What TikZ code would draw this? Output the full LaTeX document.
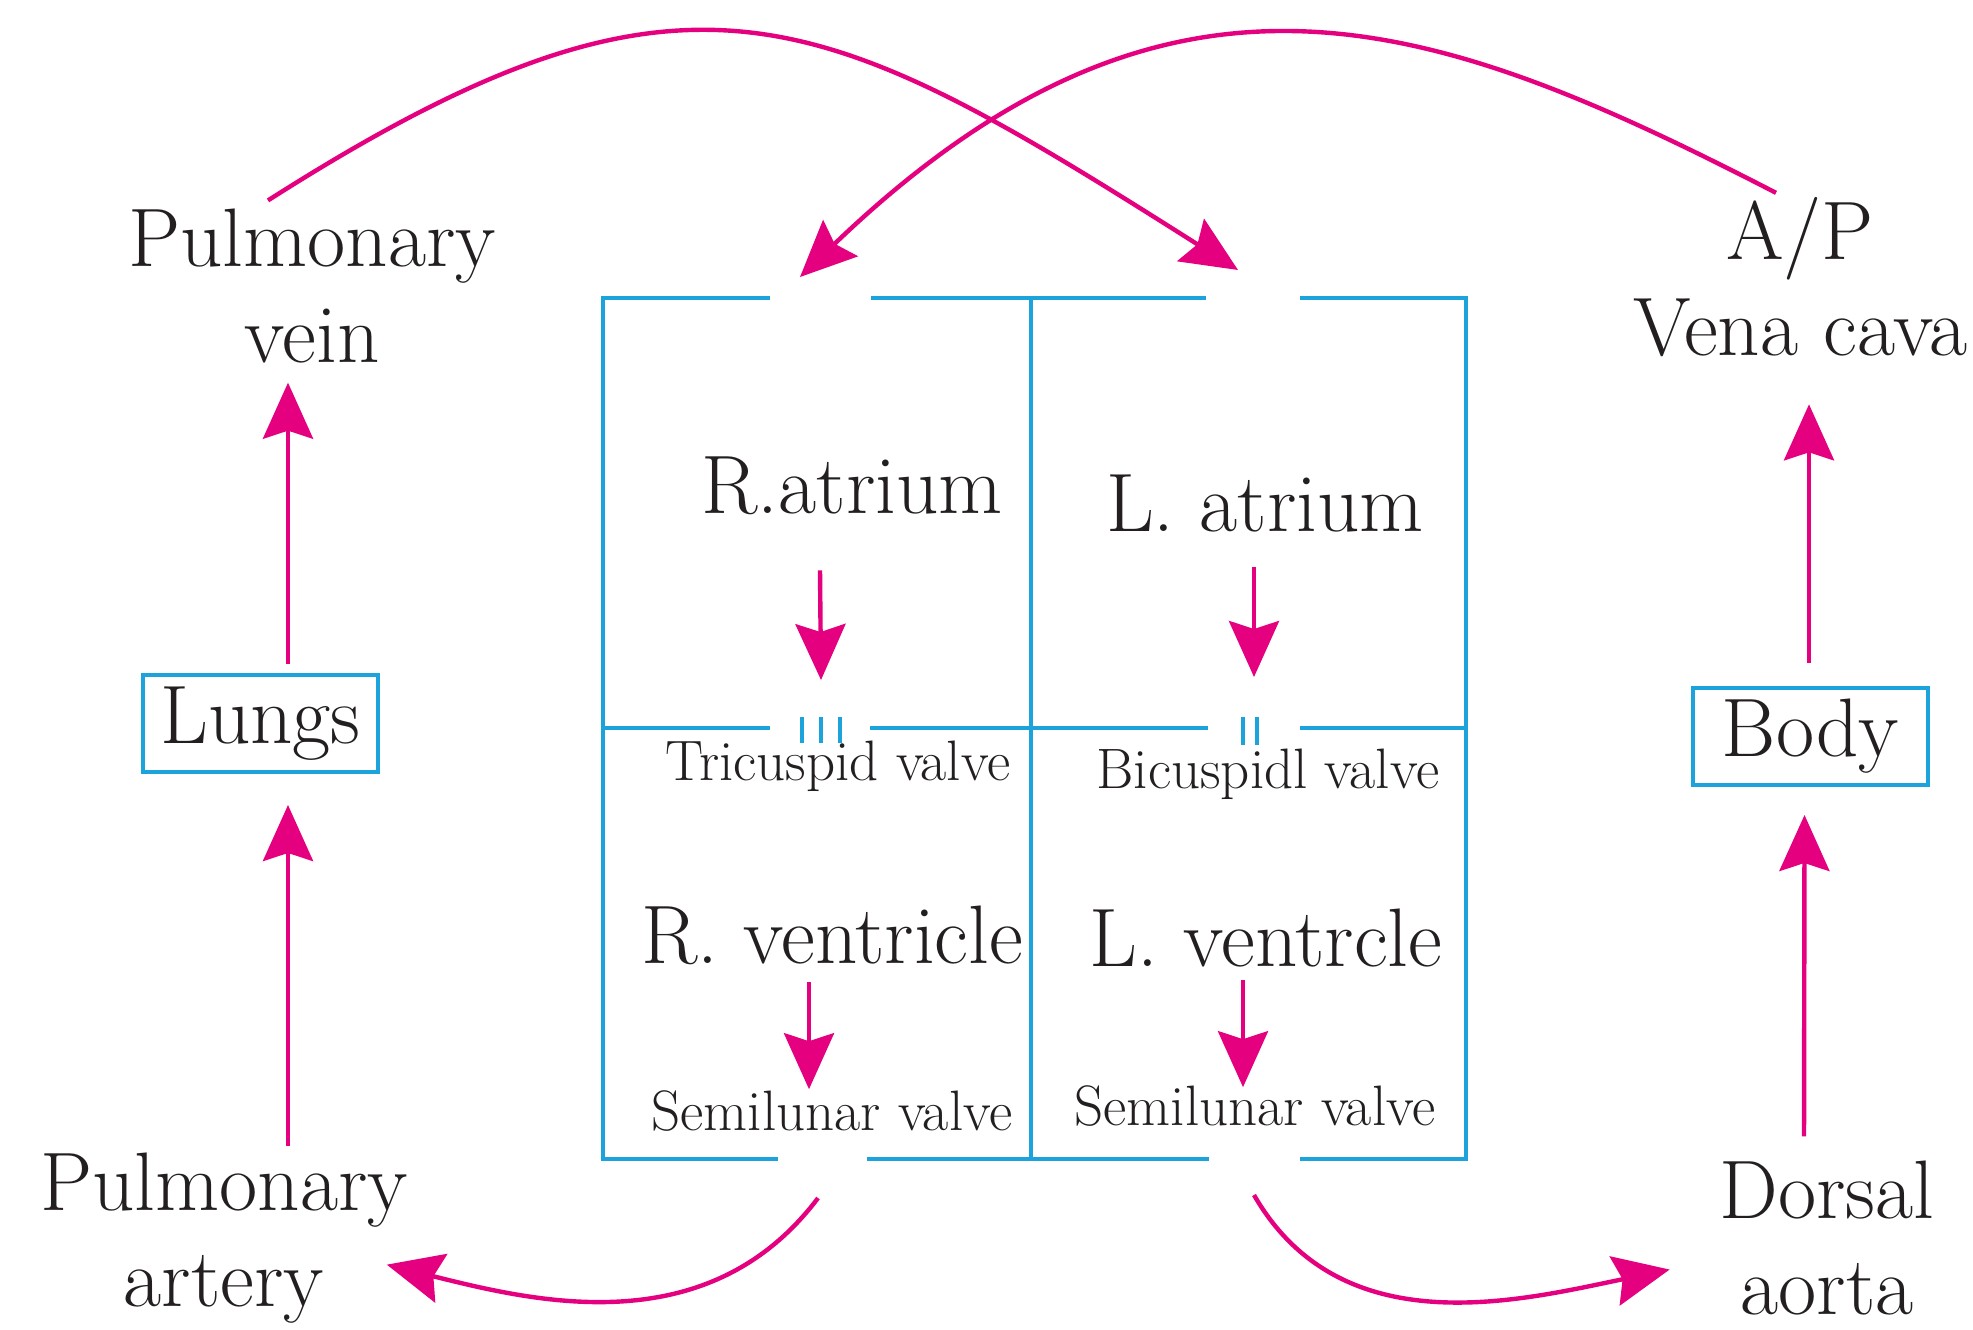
\documentclass[tikz,border=0pt]{standalone}
\usepackage{tikz}
\usetikzlibrary{arrows.meta}
\definecolor{heartblue}{RGB}{28,163,220}
\definecolor{flowpink}{RGB}{228,0,126}
\definecolor{labelgray}{RGB}{35,31,32}

\begin{document}
\begin{tikzpicture}[x=0.5pt, y=-0.5pt,
    wall/.style={heartblue, line width=2.2pt},
    flow/.style={flowpink, line width=2.2pt, -{Stealth[length=28pt, width=25pt, inset=4pt]}},
    big/.style={labelgray, inner sep=0pt, outer sep=0pt, font=\fontsize{41.5}{48}\selectfont},
    small/.style={labelgray, inner sep=0pt, outer sep=0pt, font=\fontsize{28.5}{32}\selectfont},
    organ/.style={big, draw=heartblue, line width=2.4pt, minimum width=117.5pt, minimum height=48.5pt}]
    \useasboundingbox (0,0) rectangle (1973,1329);
    % Heart walls
    \draw[wall] (770,298) -- (603,298) -- (603,1159) -- (778,1159);
    \draw[wall] (871,298) -- (1206,298);
    \draw[wall] (1300,298) -- (1466,298) -- (1466,1159) -- (1300,1159);
    \draw[wall] (867,1159) -- (1209,1159);
    \draw[wall] (1031,298) -- (1031,1159);
    % atria / ventricles partition
    \draw[wall] (603,728) -- (770,728);
    \draw[wall] (870,728) -- (1208,728);
    \draw[wall] (1300,728) -- (1466,728);
    % valve flaps: three on the right, two on the left
    \foreach \x in {802,821,840} {
      \draw[wall] (\x,717) -- (\x,743);
    }
    \foreach \x in {1243,1257} {
      \draw[wall] (\x,717) -- (\x,745);
    }
    % openings in the walls
    \coordinate (ltop) at (820,298);
    \coordinate (rtop) at (1253,298);
    \coordinate (lbot) at (822,1159);
    \coordinate (rbot) at (1254,1159);
    \coordinate (tvalve) at (821,730);
    \coordinate (bvalve) at (1250,730);
    % chamber labels
    \node[big, anchor=base] (ratrium) at (852,513) {R.atrium};
    \node[big, anchor=base] (latrium) at (1265,531) {L. atrium};
    \node[small, anchor=base] (tricusp) at (838,780) {Tricuspid valve};
    \node[small, anchor=base] (bicusp) at (1268,788) {Bicuspidl valve};
    \node[big, anchor=base] (rvent) at (832,963) {R. ventricle};
    \node[big, anchor=base] (lvent) at (1266,966) {L. ventrcle};
    \node[small, anchor=base] (rsemi) at (832,1130) {Semilunar valve};
    \node[small, anchor=base] (lsemi) at (1255,1125) {Semilunar valve};
    % vessels and organs (base = last line)
    \node[big, anchor=base, align=center] (pvein) at (312,362) {Pulmonary\\vein};
    \node[big, anchor=base, align=center] (vcava) at (1800,355) {A/P\\Vena cava};
    \node[big, anchor=base, align=center] (partery) at (224,1306) {Pulmonary\\artery};
    \node[big, anchor=base, align=center] (daorta) at (1827,1314) {Dorsal\\aorta};
    \node[organ] (lungs) at (260.5,723.5) {Lungs};
    \node[organ] (body) at (1810.5,736.5) {Body};
    % flow inside the heart
    \draw[flow] ([xshift=-16pt,yshift=-28pt]ratrium.south) -- ([yshift=25pt]tvalve);
    \draw[flow] ([xshift=-5.5pt,yshift=-17.5pt]latrium.south) -- ([xshift=2pt,yshift=26.5pt]bvalve);
    \draw[flow] ([xshift=-11.5pt,yshift=-9pt]rvent.south) -- ([xshift=-11.5pt,yshift=0.5pt]rsemi.north);
    \draw[flow] ([xshift=-11.5pt,yshift=-6.5pt]lvent.south) -- ([xshift=-6pt,yshift=-1pt]lsemi.north);
    % lungs and body
    \draw[flow] ([xshift=13.75pt,yshift=5.5pt]lungs.north) -- ([xshift=-12pt,yshift=-10pt]pvein.south);
    \draw[flow] ([xshift=32pt,yshift=3pt]partery.north) -- ([xshift=13.75pt,yshift=-16.5pt]lungs.south);
    \draw[flow] ([xshift=-0.75pt,yshift=12.5pt]body.north) -- ([xshift=4.5pt,yshift=-24pt]vcava.south);
    \draw[flow] ([xshift=-11.5pt,yshift=12pt]daorta.north) -- ([xshift=-3pt,yshift=-15pt]body.south);
    % round the heart
    \draw[flow] ([xshift=-22pt,yshift=4pt]pvein.north) .. controls +(419,-267) and +(-420,-266) .. ([xshift=-7.5pt,yshift=14pt]rtop);
    \draw[flow] ([xshift=-12pt,yshift=2pt]vcava.north) .. controls +(-340,-175) and +(372,-357) .. ([xshift=-10pt,yshift=10.5pt]ltop);
    \draw[flow] ([xshift=-2pt,yshift=-19.5pt]lbot) .. controls +(-110,146) and +(148,37) .. ([xshift=-10.5pt,yshift=-13.5pt]partery.east);
    \draw[flow] ([yshift=-18pt]rbot) .. controls +(87,151) and +(-150,31) .. ([xshift=-25pt,yshift=-16pt]daorta.west);
\end{tikzpicture}
\end{document}
